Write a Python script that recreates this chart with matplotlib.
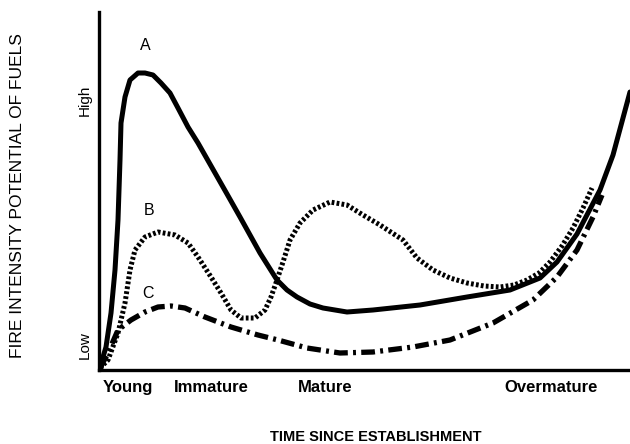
import matplotlib
matplotlib.use("Agg")
import matplotlib.pyplot as plt

# Conceptual curves: x = time since establishment, y = fire intensity potential (arbitrary units)
curve_a_x = [2, 4, 7, 12, 16, 19, 21, 22, 26, 31, 39, 46, 54, 62, 71, 79, 89, 99, 128, 141, 161, 178, 188, 198, 211, 224, 248, 274, 321, 368, 411, 441, 458, 478, 501, 514, 531]
curve_a_y = [2, 13, 23, 57, 100, 150, 210, 247, 273, 290, 297, 297, 295, 287, 277, 262, 243, 227, 176, 153, 117, 90, 80, 73, 66, 62, 58, 60, 65, 73, 80, 92, 108, 136, 180, 215, 278]

curve_b_x = [1, 5, 9, 19, 26, 31, 36, 46, 59, 76, 89, 99, 112, 122, 132, 142, 156, 166, 172, 178, 184, 191, 201, 214, 231, 248, 264, 281, 304, 318, 334, 351, 368, 385, 401, 415, 428, 440, 451, 463, 474, 484, 493]
curve_b_y = [2, 6, 10, 37, 67, 100, 120, 133, 138, 135, 127, 113, 93, 77, 60, 52, 52, 60, 73, 90, 108, 130, 147, 160, 168, 165, 155, 145, 130, 112, 100, 92, 87, 84, 83, 85, 90, 97, 108, 124, 142, 162, 182]

curve_c_x = [1, 9, 19, 32, 46, 59, 72, 86, 106, 132, 159, 179, 208, 241, 274, 314, 351, 394, 434, 458, 478, 494, 503]
curve_c_y = [2, 17, 40, 50, 58, 63, 64, 62, 53, 43, 35, 30, 22, 17, 18, 23, 30, 47, 70, 93, 120, 153, 175]

curve_labels = ["A", "B", "C"]
label_x = [46, 50, 49]
label_y = [325, 160, 77]

stage_labels = ["Young", "Immature", "Mature", "Overmature"]
stage_pos = [29, 112, 226, 452]

y_level_labels = ["Low", "High"]
y_level_pos = [25, 270]

fig = plt.figure(figsize=(6.3, 4.44), dpi=100)
ax = fig.add_axes([99/630, 74/444, 531/630, 358/444])
ax.set_xlim(0, 531)
ax.set_ylim(0, 358)

ax.plot(curve_a_x, curve_a_y, color="black", lw=3.6, solid_joinstyle="round", solid_capstyle="round")
ax.plot(curve_b_x, curve_b_y, color="black", lw=3.6, linestyle=(0, (0.55, 0.45)), dash_capstyle="butt")
ax.plot(curve_c_x, curve_c_y, color="black", lw=3.8, linestyle=(0, (2.6, 1.0, 0.55, 1.0)), dash_capstyle="butt")

for t, x, y in zip(curve_labels, label_x, label_y):
    ax.text(x, y, t, ha="center", va="center", fontsize=11.5, family="Liberation Sans")

for s in ["top", "right"]:
    ax.spines[s].set_visible(False)
ax.spines["left"].set_linewidth(2.4)
ax.spines["bottom"].set_linewidth(2.4)

ax.set_xticks(stage_pos)
ax.set_xticklabels(stage_labels, fontsize=12, fontweight="bold", family="Liberation Sans")
ax.tick_params(axis="x", length=0, pad=7)
ax.set_yticks(y_level_pos)
ax.set_yticklabels(y_level_labels, rotation=90, va="center", fontsize=11, family="Liberation Sans")
ax.tick_params(axis="y", length=0, pad=5)

fig.text(376/630, 1 - 437/444, "TIME SINCE ESTABLISHMENT", ha="center", va="center",
         fontsize=10.5, fontweight="bold", family=["Liberation Sans Narrow", "Liberation Sans"])
fig.text(18/630, 1 - 196/444, "FIRE INTENSITY POTENTIAL OF FUELS", ha="center", va="center",
         rotation=90, fontsize=12.5, family="Liberation Sans")

fig.savefig("out.png", dpi=100)
